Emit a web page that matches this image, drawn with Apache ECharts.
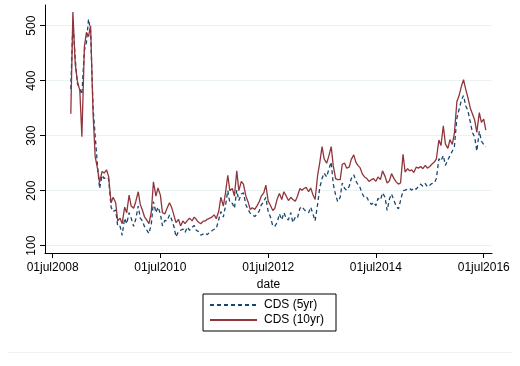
<!DOCTYPE html>
<html>
<head>
<meta charset="utf-8">
<script src="https://cdn.jsdelivr.net/npm/echarts@6/dist/echarts.min.js"></script>
<style>
html,body{margin:0;padding:0;background:#fff;}
#chart{width:520px;height:366px;}
</style>
</head>
<body>
<div id="chart"></div>
<script>
// semi-monthly observation dates (1st and 15th), Nov 2008 - Jul 2016
const dates = [];
for (let y = 2008; y <= 2016; y++) {
  for (let m = 1; m <= 12; m++) {
    if ((y === 2008 && m < 11) || (y === 2016 && m > 7)) continue;
    const mm = (m < 10 ? '0' : '') + m;
    dates.push(y + '-' + mm + '-01', y + '-' + mm + '-15');
  }
}

const cds10 = [
  340,525,430,400,
  382,298,462,488,480,500,340,262,240,215,235,232,238,226,178,188,178,145,150,140,170,160,192,172,
  168,180,198,175,165,153,146,140,162,216,190,205,192,160,158,168,178,170,155,142,148,136,145,140,
  146,150,145,152,148,143,140,144,145,148,150,152,156,149,163,188,172,195,228,200,204,190,236,200,
  217,212,190,180,166,169,166,172,180,190,196,210,181,174,164,168,186,195,184,198,190,182,188,184,
  181,190,204,201,204,206,198,205,192,184,228,250,280,258,250,262,280,245,222,220,220,248,250,241,
  243,257,265,252,246,242,230,225,222,217,220,222,217,225,220,236,226,214,218,231,222,216,212,214,
  266,234,240,236,238,233,243,241,244,240,246,241,244,248,252,258,292,282,318,285,277,293,284,304,
  362,372,390,402,384,370,350,340,328,306,342,324,330,310
];

const cds5 = [
  385,505,440,395,
  385,375,455,470,512,490,350,300,245,204,228,222,225,222,170,162,165,135,135,119,150,140,160,150,
  135,148,172,150,145,135,128,122,140,180,160,170,158,136,146,145,156,148,135,116,126,128,130,124,
  134,128,133,137,128,126,119,121,123,120,125,127,130,131,148,162,152,172,200,178,177,168,201,182,
  194,196,174,166,159,156,153,157,163,174,180,188,162,153,136,135,143,158,147,160,149,147,160,142,
  152,150,168,171,166,162,160,170,157,145,175,205,222,232,225,238,252,212,192,180,188,214,204,201,
  208,222,229,218,211,206,194,187,188,180,175,179,173,186,183,196,188,164,185,194,182,172,167,182,
  200,201,203,204,201,205,203,208,212,208,213,207,210,213,214,222,258,254,264,246,256,264,272,280,
  332,347,365,373,354,346,325,306,297,272,308,290,284,280
];

const xTickDates = ['2008-07-01','2010-07-01','2012-07-01','2014-07-01','2016-07-01'];
const yTicks = [100, 200, 300, 400, 500];
const seriesNames = ['CDS (5yr)', 'CDS (10yr)'];

const monthAbbr = ['jan','feb','mar','apr','may','jun','jul','aug','sep','oct','nov','dec'];
function fmtDate(v) {
  const d = new Date(v);
  const dd = d.getUTCDate();
  return (dd < 10 ? '0' : '') + dd + monthAbbr[d.getUTCMonth()] + d.getUTCFullYear();
}
function ts(s) { return Date.parse(s + 'T00:00:00Z'); }

const xTickValues = xTickDates.map(ts);
const FONT = "'Liberation Sans', Arial, Helvetica, sans-serif";

const chart = echarts.init(document.getElementById('chart'), null, {renderer: 'canvas'});
chart.setOption({
  animation: false,
  backgroundColor: '#ffffff',
  grid: {left: 45, right: 28, top: 5, bottom: 113, containLabel: false},
  xAxis: {
    type: 'value',
    min: ts('2008-05-10'),
    max: ts('2016-08-26'),
    name: 'date',
    nameLocation: 'middle',
    nameGap: 20,
    nameTextStyle: {color: '#000', fontSize: 12, fontFamily: FONT},
    axisLine: {onZero: false, lineStyle: {color: '#000', width: 1}},
    axisTick: {show: true, length: 5, lineStyle: {color: '#000'}, customValues: xTickValues},
    axisLabel: {
      color: '#000', fontSize: 12, fontFamily: FONT, margin: 9,
      customValues: xTickValues, formatter: fmtDate, hideOverlap: false
    },
    splitLine: {show: false}
  },
  yAxis: {
    type: 'value',
    min: 86.7,
    max: 537.6,
    axisLine: {show: true, lineStyle: {color: '#000', width: 1}},
    axisTick: {show: true, length: 5, lineStyle: {color: '#000'}, customValues: yTicks},
    axisLabel: {color: '#000', fontSize: 12, fontFamily: FONT, rotate: 90, margin: 7, customValues: yTicks},
    splitLine: {show: true, lineStyle: {color: '#eaf2f3', width: 1}}
  },
  legend: {
    orient: 'vertical',
    left: 203,
    top: 294,
    padding: [5, 12, 5, 6],
    itemGap: 3,
    itemWidth: 47,
    itemHeight: 14,
    borderColor: '#000',
    borderWidth: 1,
    borderRadius: 0,
    backgroundColor: '#fff',
    itemStyle: {opacity: 0},
    textStyle: {color: '#000', fontSize: 12, fontFamily: FONT, padding: [0, 0, 0, 2]},
    data: seriesNames
  },
  graphic: [{
    type: 'line',
    shape: {x1: 8, y1: 352.5, x2: 512, y2: 352.5},
    style: {stroke: '#eef2f4', lineWidth: 1},
    silent: true
  }],
  series: [
    {
      name: seriesNames[0],
      type: 'line',
      symbol: 'none',
      data: dates.map((d, i) => [ts(d), cds5[i]]),
      lineStyle: {color: '#1a476f', width: 1.3, type: [4, 3]},
      itemStyle: {color: '#1a476f'},
      z: 2
    },
    {
      name: seriesNames[1],
      type: 'line',
      symbol: 'none',
      data: dates.map((d, i) => [ts(d), cds10[i]]),
      lineStyle: {color: '#90353b', width: 1.3},
      itemStyle: {color: '#90353b'},
      z: 3
    }
  ]
});
</script>
</body>
</html>
